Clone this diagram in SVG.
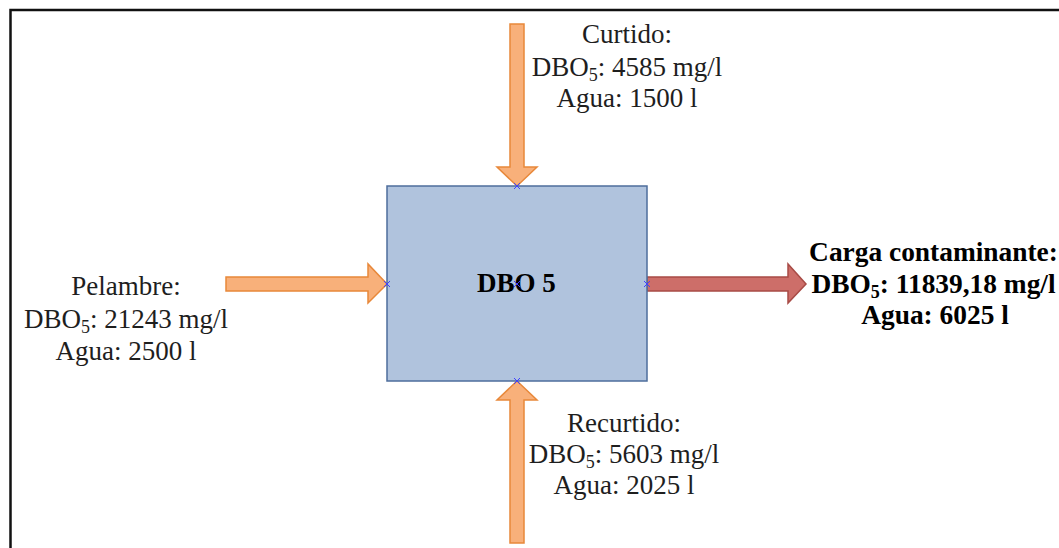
<svg xmlns="http://www.w3.org/2000/svg" width="1059" height="548" viewBox="0 0 1059 548">
  <style>
    .lbl { font-family: "Liberation Serif", "Times New Roman", serif; font-size: 27px; fill: #1e1e1e; text-anchor: middle; }
    .bold { font-weight: bold; fill: #000; }
    .big { font-size: 27.4px; }
    .sub { font-size: 18px; }
    .in { fill: #F8B07A; stroke: #E8883A; stroke-width: 1.5; }
    .out { fill: #CD6E69; stroke: #A84B46; stroke-width: 1.5; }
    .mark { stroke: #4040ff; stroke-width: 1; fill: none; }
  </style>
  <rect width="1059" height="548" fill="#fff"/>
  <!-- outer frame (open on right and bottom) -->
  <path d="M10.5 548 V10 H1059" fill="none" stroke="#111" stroke-width="2.5"/>

  <g id="connectors">
    <!-- top inflow -->
    <path class="in" d="M510 24 H524 V167 H537 L517 186 L497 167 H510 Z"/>
    <!-- left inflow -->
    <path class="in" d="M226 277 V291 H368 V303 L387 284 L368 264 V277 Z"/>
    <!-- bottom inflow -->
    <path class="in" d="M510 543 H524 V400 H537 L517 381 L497 400 H510 Z"/>
    <!-- outflow -->
    <path class="out" d="M647 277 V291 H788 V303 L806 284 L788 264 V277 Z"/>
  </g>

  <g id="node-dbo5">
    <rect x="387" y="186" width="260" height="195" fill="#B0C3DD" stroke="#4E6E9C" stroke-width="1.5"/>
    <text class="lbl bold" x="516.5" y="292">DBO 5</text>
    <path class="mark" d="M514 183 l6 6 M520 183 l-6 6 M384 281 l6 6 M390 281 l-6 6 M514 378 l6 6 M520 378 l-6 6 M514 281 l6 6 M520 281 l-6 6 M644 281 l6 6 M650 281 l-6 6"/>
  </g>

  <g id="label-curtido">
    <text class="lbl" x="627" y="43">Curtido:</text>
    <text class="lbl" x="627" y="76">DBO<tspan class="sub" dy="5">5</tspan><tspan dy="-5">: 4585 mg/l</tspan></text>
    <text class="lbl" x="627" y="107">Agua: 1500 l</text>
  </g>

  <g id="label-pelambre">
    <text class="lbl" x="126" y="295">Pelambre:</text>
    <text class="lbl" x="126" y="328">DBO<tspan class="sub" dy="5">5</tspan><tspan dy="-5">: 21243 mg/l</tspan></text>
    <text class="lbl" x="126" y="360">Agua: 2500 l</text>
  </g>

  <g id="label-recurtido">
    <text class="lbl" x="624" y="432">Recurtido:</text>
    <text class="lbl" x="624" y="463">DBO<tspan class="sub" dy="5">5</tspan><tspan dy="-5">: 5603 mg/l</tspan></text>
    <text class="lbl" x="624" y="494">Agua: 2025 l</text>
  </g>

  <g id="label-carga">
    <text class="lbl bold big" x="933.5" y="261">Carga contaminante:</text>
    <text class="lbl bold big" x="933.5" y="293">DBO<tspan class="sub" dy="5">5</tspan><tspan dy="-5">: 11839,18 mg/l</tspan></text>
    <text class="lbl bold big" x="935" y="324">Agua: 6025 l</text>
  </g>
</svg>
